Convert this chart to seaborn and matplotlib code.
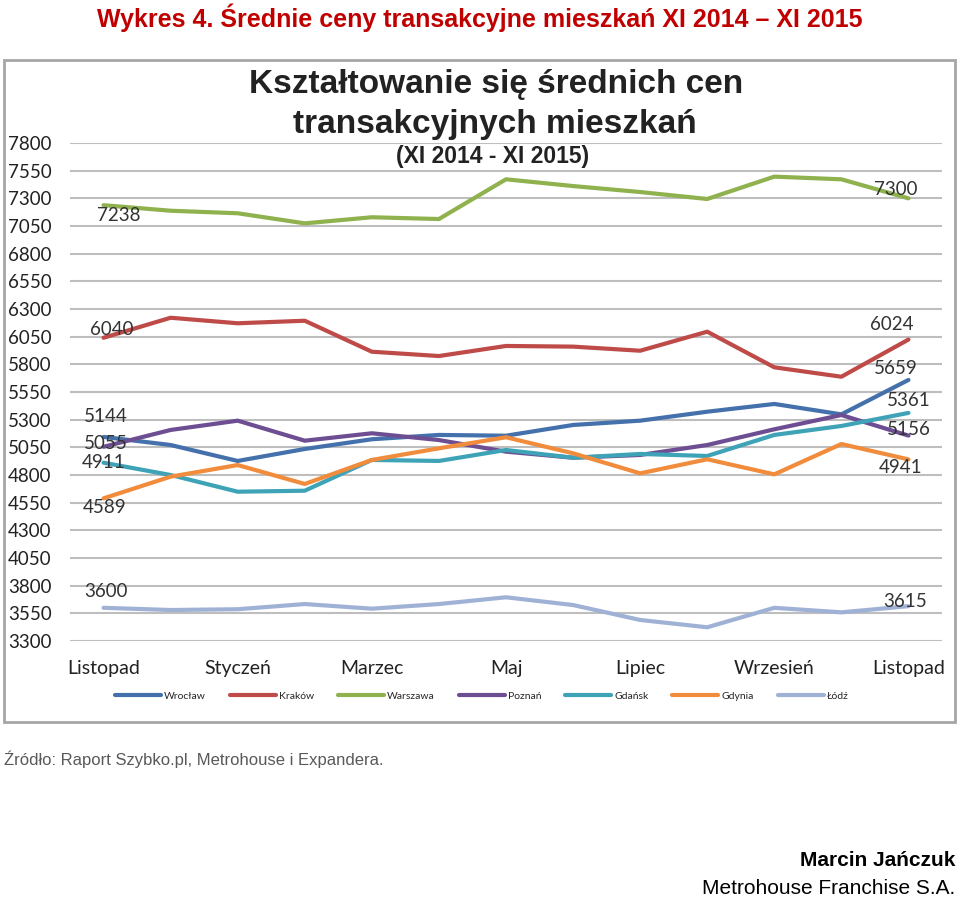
import matplotlib
matplotlib.use("Agg")
import matplotlib.pyplot as plt
from matplotlib.patches import Rectangle
from matplotlib.lines import Line2D
import seaborn as sns
import pandas as pd

months = ["Listopad", "Grudzień", "Styczeń", "Luty", "Marzec", "Kwiecień", "Maj",
          "Czerwiec", "Lipiec", "Sierpień", "Wrzesień", "Październik", "Listopad "]
tick_labels = ["Listopad", "", "Styczeń", "", "Marzec", "", "Maj", "", "Lipiec", "",
               "Wrzesień", "", "Listopad"]
yticks = list(range(3300, 7801, 250))

cities = ["Wrocław", "Kraków", "Warszawa", "Poznań", "Gdańsk", "Gdynia", "Łódź"]
wroclaw = [5144, 5071, 4927, 5035, 5123, 5162, 5155, 5252, 5291, 5372, 5442, 5348, 5659]
krakow = [6040, 6221, 6171, 6194, 5914, 5875, 5966, 5960, 5923, 6095, 5773, 5688, 6024]
warszawa = [7238, 7188, 7165, 7074, 7129, 7113, 7472, 7411, 7357, 7294, 7496, 7472, 7300]
poznan = [5055, 5207, 5291, 5110, 5177, 5116, 5011, 4956, 4981, 5071, 5213, 5342, 5156]
gdansk = [4911, 4800, 4649, 4658, 4936, 4927, 5026, 4956, 4990, 4972, 5162, 5243, 5361]
gdynia = [4589, 4785, 4890, 4719, 4936, 5041, 5141, 4996, 4815, 4942, 4806, 5080, 4941]
lodz = [3600, 3580, 3587, 3634, 3592, 3634, 3695, 3625, 3490, 3424, 3600, 3559, 3615]
series = [wroclaw, krakow, warszawa, poznan, gdansk, gdynia, lodz]

colors = ["#4470AC", "#BE4B48", "#8FB14E", "#6E4E93", "#3FA3B8", "#F08C3C", "#9FB2D6"]

# label offsets in pixels (start, end)
start_off = [(2, 20), (8, 8), (15, -10), (2, 3), (0, 0), (1, -9), (2, 16)]
end_off = [(-13, 11), (-17, 15), (-13, 9), (0, 6), (0, 12), (-8, -8), (-3, 5)]

rows = []
for c, vals in zip(cities, series):
    for i, v in enumerate(vals):
        rows.append({"idx": i, "city": c, "value": v})
df = pd.DataFrame(rows)

sns.set_style("white")
plt.rcParams["font.family"] = ["Lato", "DejaVu Sans"]

fig = plt.figure(figsize=(9.6, 9.0), dpi=100)
ax = fig.add_axes([70 / 960, 1 - 641 / 900, 872 / 960, 498 / 900])

sns.lineplot(data=df, x="idx", y="value", hue="city", hue_order=cities,
             palette=colors, linewidth=3, ax=ax, legend=False)

ax.set_xlim(-0.5, 12.5)
ax.set_ylim(3300, 7800)
ax.set_yticks(yticks)
ax.set_yticklabels([str(t) for t in yticks], fontsize=13.5, color="#222222")
ax.set_xticks(range(13))
ax.set_xticklabels(tick_labels, fontsize=14, color="#222222")
ax.tick_params(axis="x", length=0, pad=14)
ax.yaxis.grid(True, color="#BEBEBE", linewidth=1.5)
ax.xaxis.grid(False)
ax.set_axisbelow(True)
for s in ax.spines.values():
    s.set_visible(False)
ax.set_xlabel("")
ax.set_ylabel("")
for t in ax.get_yticklabels():
    t.set_horizontalalignment("left")
ax.tick_params(axis="y", length=0, pad=62 * 0.72)

for vals, so, eo in zip(series, start_off, end_off):
    ax.annotate(str(vals[0]), (0, vals[0]), xytext=so, textcoords="offset pixels",
                ha="center", va="center", fontsize=13.5, color="#333333")
    ax.annotate(str(vals[-1]), (12, vals[-1]), xytext=eo, textcoords="offset pixels",
                ha="center", va="center", fontsize=13.5, color="#333333")

# chart frame
fig.patches.append(Rectangle((4 / 960, 1 - 722 / 900), 951 / 960, 662 / 900,
                             transform=fig.transFigure, fill=False,
                             edgecolor="#A6A6A6", linewidth=2))

# legend
handles = [Line2D([0], [0], color=c, linewidth=3) for c in colors]
fig.legend(handles, cities, loc="center", bbox_to_anchor=(0.502, 1 - 696 / 900),
           ncol=7, frameon=False, fontsize=7.5, handlelength=4.4,
           columnspacing=2.3, handletextpad=0.3)

hf = ["Liberation Sans", "DejaVu Sans"]
# titles
fig.text(0.5, 1 - 18 / 900, "Wykres 4. Średnie ceny transakcyjne mieszkań XI 2014 – XI 2015",
         ha="center", va="center", fontsize=18, fontweight="bold", color="#C00000",
         family=hf)
fig.text(0.517, 1 - 84 / 900, "Kształtowanie się średnich cen",
         ha="center", va="center", fontsize=24, fontweight="bold", color="#222222",
         family=hf)
fig.text(0.516, 1 - 124 / 900, "transakcyjnych mieszkań",
         ha="center", va="center", fontsize=24, fontweight="bold", color="#222222",
         family=hf)
fig.text(0.513, 1 - 156 / 900, "(XI 2014 - XI 2015)",
         ha="center", va="center", fontsize=16.5, fontweight="bold", color="#222222",
         family=hf)

fig.text(4 / 960, 1 - 759 / 900, "Źródło: Raport Szybko.pl, Metrohouse i Expandera.",
         ha="left", va="center", fontsize=12, color="#595959", family=hf)
fig.text(955 / 960, 1 - 861 / 900, "Marcin Jańczuk",
         ha="right", va="center", fontsize=15, fontweight="bold", color="#000000",
         family=hf)
fig.text(955 / 960, 1 - 889 / 900, "Metrohouse Franchise S.A.",
         ha="right", va="center", fontsize=15, color="#000000", family=hf)

fig.savefig("out.png", dpi=100)
